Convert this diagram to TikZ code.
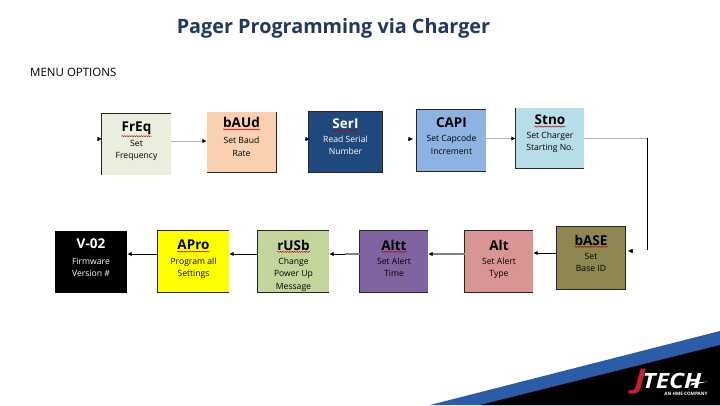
\documentclass[tikz,border=0pt]{standalone}
\usepackage{fontspec}
\setmainfont{Open Sans}
\usetikzlibrary{decorations.pathmorphing,arrows.meta,calc}
\definecolor{ttl}{HTML}{1F3864}
\definecolor{gline}{HTML}{B0B0B0}
\definecolor{jblue}{HTML}{2A5CA8}
\definecolor{jred}{HTML}{C8202F}
\definecolor{cfr}{HTML}{E9EFDC}
\definecolor{cba}{HTML}{FAD0AE}
\definecolor{cse}{HTML}{1F497D}
\definecolor{cca}{HTML}{8DB3E2}
\definecolor{cst}{HTML}{B7DDE8}
\definecolor{cbs}{HTML}{8E8751}
\definecolor{cal}{HTML}{D99594}
\definecolor{cat}{HTML}{8064A2}
\definecolor{cru}{HTML}{C2D69B}
\definecolor{cap}{HTML}{FFFF00}
\tikzset{
  ttlt/.style={font=\bfseries\fontsize{13.5}{14}\selectfont,inner sep=0pt},
  sub/.style={font=\fontsize{8.6}{12.5}\selectfont,inner sep=0pt,align=center},
  sq/.style={draw=red!75!black,line width=0.5pt,decorate,decoration={snake,amplitude=0.5pt,segment length=2.4pt}},
  bd/.style={draw=black!85,line width=0.7pt},
  blk/.style={draw=black,line width=0.9pt,-{Latex[length=4.5pt,width=4.5pt]}},
  gry/.style={draw=gline,line width=0.9pt,-{Latex[black,length=4.5pt,width=4.5pt]}},
  gryt/.style={draw=gray,line width=1.6pt,-{Latex[black,length=4.5pt,width=4.5pt]}},
  stub/.style={draw=black,line width=0.4pt,-{Latex[length=4.5pt,width=4.5pt]}},
  plain/.style={draw=gline,line width=0.9pt}
}
\def\tdy{12.5}\def\sdy{25}
\newcommand{\mybox}[9]{%
 % name x1 y1 x2 y2 fill textcolour title subtitle
 \node[fill=#6,inner sep=0pt,minimum width={#4-#2},minimum height={#5-#3}] (#1) at ({(#2+#4)/2},{(#3+#5)/2}) {};
 \node[ttlt,text=#7] (#1 t) at ({(#2+#4)/2},{#3+\tdy}) {#8};
 \node[sub,text=#7,anchor=north] (#1 s) at ({(#2+#4)/2},{#3+\sdy}) {#9};
}
\newcommand{\wavy}[1]{\draw[sq] ([yshift=-1.5pt]#1 t.south west) -- ([yshift=-1.5pt]#1 t.south east);}
\begin{document}
\begin{tikzpicture}[x=1pt,y=-1pt]
\useasboundingbox (0,0) rectangle (720,405);
\fill[white] (0,0) rectangle (720,405);
\node[inner sep=0pt,text=ttl,font=\fontsize{19.8}{22}\selectfont\bfseries] (title) at (333.5,28) {Pager Programming via Charger};
\node[inner sep=0pt,anchor=west,text=black,font=\fontsize{11.5}{13}\selectfont] (menu) at (30,72.5) {MENU OPTIONS};

\def\tdy{14}\def\sdy{26}
\mybox{fr}{102}{114}{171}{175}{cfr}{black}{FrEq}{Set\\Frequency}
\def\tdy{10.5}\def\sdy{25}
\mybox{ba}{207}{112}{276}{172}{cba}{black}{bAUd}{Set Baud\\Rate}
\def\tdy{12.5}\def\sdy{24}
\mybox{se}{309}{111.5}{382}{172}{cse}{white}{SerI}{Read Serial\\Number}
\def\sdy{25}
\mybox{ca}{417}{110}{486}{171}{cca}{black}{CAPI}{Set Capcode\\Increment}
\def\tdy{12}\def\sdy{23.5}
\mybox{st}{516}{108}{584}{168}{cst}{black}{Stno}{Set Charger\\Starting No.}
\def\tdy{13}\def\sdy{26}
\mybox{bs}{557}{227}{625}{289}{cbs}{black}{bASE}{Set\\Base ID}
\def\tdy{14}\def\sdy{26.5}
\mybox{al}{465}{231}{533}{292}{cal}{black}{Alt}{Set Alert\\Type}
\mybox{at}{360}{231}{428}{292}{cat}{black}{Altt}{Set Alert\\Time}
\mybox{ru}{258}{231}{329}{292}{cru}{black}{rUSb}{Change\\Power Up\\Message}
\mybox{ap}{158}{231}{229}{292}{cap}{black}{APro}{Program all\\Settings}
\def\tdy{13}
\mybox{vv}{55}{231}{127}{293}{black}{white}{V-02}{Firmware\\Version \#}

% box edges
\draw[bd] (fr.south west) -- (fr.north west) -- (fr.north east);
\draw[bd] (ba.north east) -- (ba.south east) -- (ba.south west);
\draw[bd] (se.south west) rectangle (se.north east);
\draw[bd] (ca.south east) -- (ca.south west) -- (ca.north west) -- (ca.north east);
\draw[bd] (st.north west) -- (st.south west) -- (st.south east);
\draw[bd] (bs.south west) rectangle (bs.north east);
\draw[bd] (al.south east) -- (al.south west) -- (al.north west) -- (al.north east);
\draw[bd] (at.south east) -- (at.south west) -- (at.north west) -- (at.north east);
\draw[bd] (ru.south east) -- (ru.south west) -- (ru.north west) -- (ru.north east);
\draw[bd] (ap.south east) -- (ap.south west) -- (ap.north west) -- (ap.north east);

% spell-check squiggles
\wavy{fr}\wavy{ba}\wavy{se}\wavy{st}\wavy{bs}\wavy{at}\wavy{ru}\wavy{ap}

% free ends
\coordinate (frin) at (97,139);
\coordinate (frtip) at (102,139);
\coordinate (sein) at (305,139);
\coordinate (setip) at (310,139);
\coordinate (cain) at (408,139);
\coordinate (catip) at (413,139);
\coordinate (corner) at (647,138);
\coordinate (down) at (647,250);
\coordinate (bsin) at (632,251);
\coordinate (bstip) at (628,251);
\coordinate (mid) at (345,254);

% connectors
\draw[stub] (frin) -- (frtip);
\draw[gry] (fr.east |- 0,141) -- (ba.west |- 0,141);
\draw[stub] (sein) -- (setip);
\draw[stub] (cain) -- (catip);
\draw[gry] (ca.east |- 0,138.5) -- (st.west |- 0,138.5);
\draw[plain] (st.east |- corner) -- (corner);
\draw[draw=black,line width=0.9pt] (corner) -- (down);
\draw[stub] (bsin) -- (bstip);
\draw[blk] (bs.west |- 0,253) -- (al.east |- 0,253);
\draw[gryt] (al.west |- 0,254) -- (at.east |- 0,254);
\draw[draw=gray,line width=1.3pt] (at.west |- 0,254) -- (mid);
\draw[blk] (mid) -- (ru.east |- 0,254);
\draw[blk] (ru.west |- 0,254) -- (ap.east |- 0,254);
\draw[blk] (ap.west |- 0,254) -- (vv.east |- 0,254);

% corner band and logo
\fill[jblue] (430,405) -- (720,331) -- (720,405) -- cycle;
\fill[black] (480,405) -- (720,345) -- (720,405) -- cycle;
\fill[white] (690,385.5) -- (708,381.5) -- (692,383) -- cycle;
\node[inner sep=0pt,text=jred,transform shape,xscale=1.3,font=\fontsize{27}{27}\selectfont\bfseries\itshape] (jlogo) at (640,382) {J};
\node[inner sep=0pt,text=white,anchor=west,transform shape,xscale=1.17,font=\fontsize{21}{21}\selectfont\bfseries\itshape] (techlogo) at (642.5,380.5) {TECH};
\node[inner sep=0pt,text=white,font=\fontsize{4.6}{5}\selectfont\bfseries] (hme) at (686,393.5) {AN HME COMPANY};
\end{tikzpicture}
\end{document}
